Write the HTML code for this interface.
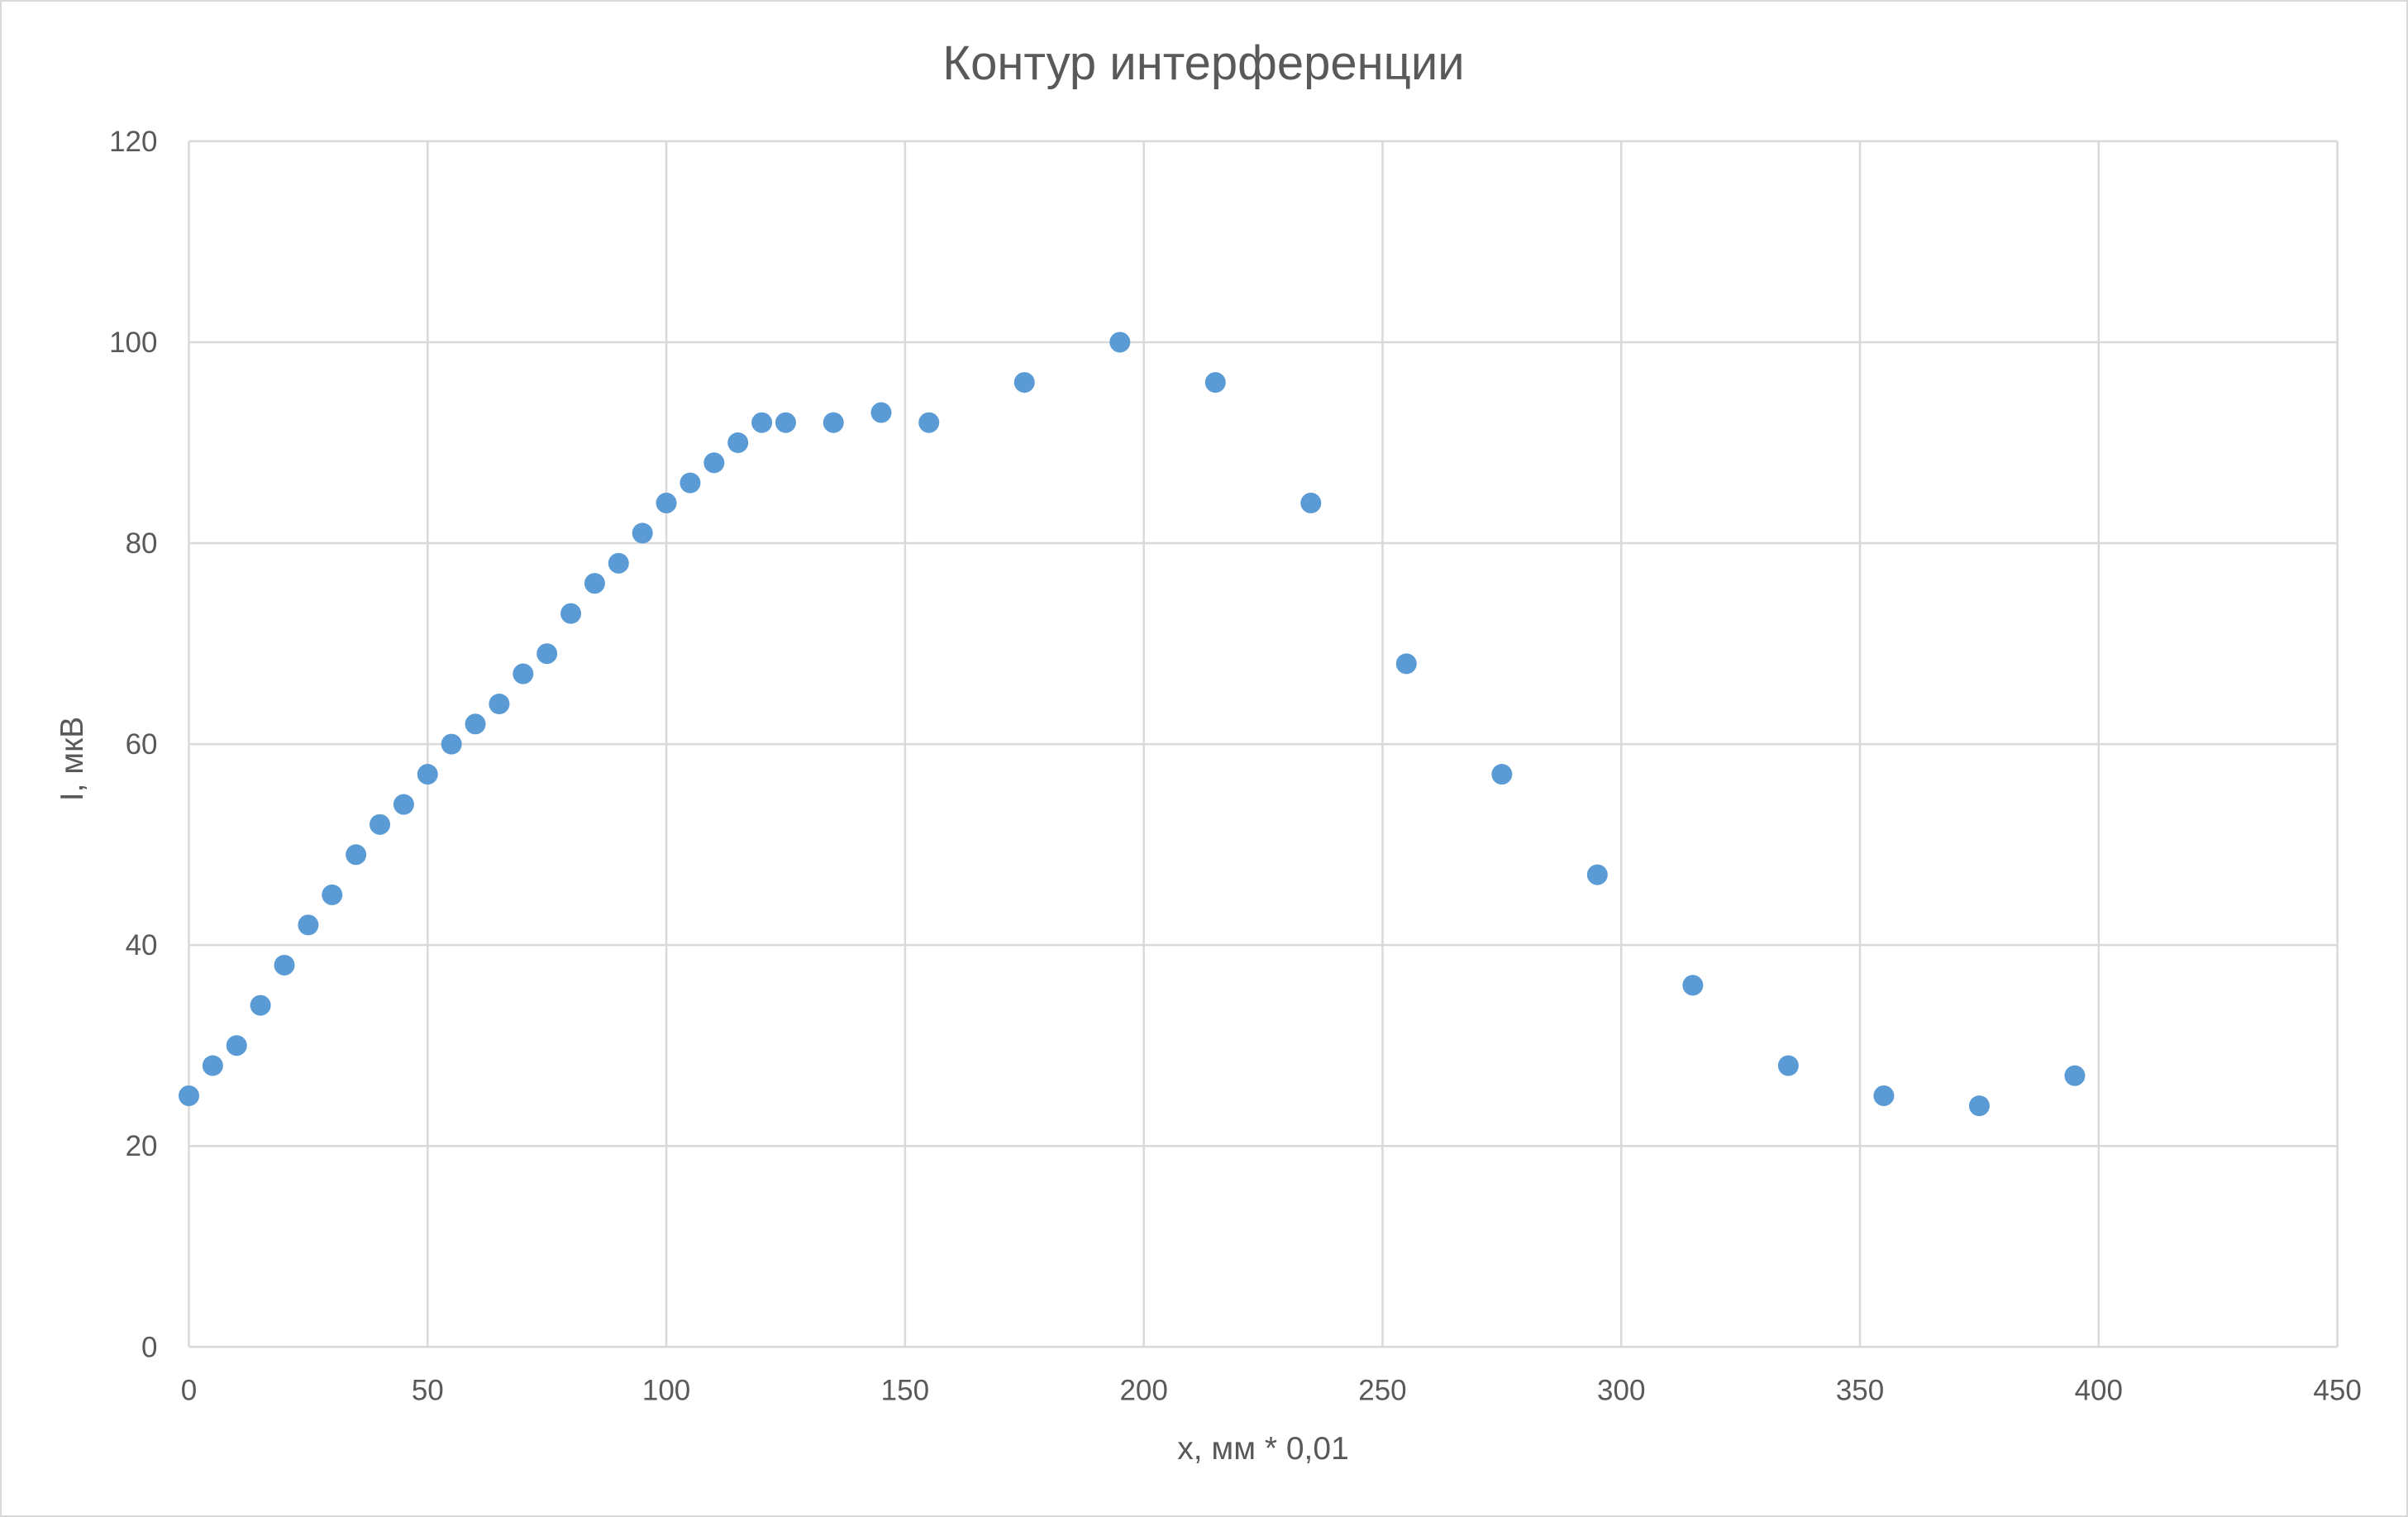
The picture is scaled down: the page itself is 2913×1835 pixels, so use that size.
<!DOCTYPE html>
<html><head><meta charset="utf-8"><style>
html,body{margin:0;padding:0;background:#fff;}
svg{display:block;font-family:"Liberation Sans","DejaVu Sans",sans-serif;}
</style></head><body>
<svg id="chart" width="2913" height="1835" viewBox="0 0 2913 1835" xmlns="http://www.w3.org/2000/svg">
<rect x="1" y="1" width="2911" height="1833" fill="#fff" stroke="#d9d9d9" stroke-width="2"/>
<text x="1456" y="96" font-size="58" fill="#595959" text-anchor="middle">Контур интерференции</text>
<g id="grid"></g><g id="ticks"></g><g id="points"></g>
<text x="1528" y="1765" font-size="39" fill="#595959" text-anchor="middle">x, мм * 0,01</text>
<text transform="translate(100,918) rotate(-90)" font-size="39" fill="#595959" text-anchor="middle">I, мкВ</text>
</svg>
<script>
const xValues=[0,5,10,15,20,25,30,35,40,45,50,55,60,65,70,75,80,85,90,95,100,105,110,115,120,125,135,145,155,175,195,215,235,255,275,295,315,335,355,375,395];
const yValues=[25,28,30,34,38,42,45,49,52,54,57,60,62,64,67,69,73,76,78,81,84,86,88,90,92,92,92,93,92,96,100,96,84,68,57,47,36,28,25,24,27];
const xTicks=[0,50,100,150,200,250,300,350,400,450];
const yTicks=[0,20,40,60,80,100,120];
const L=228.5,R=2827.6,T=170.9,B=1629.3;
const sx=v=>L+(v-0)/(450-0)*(R-L);
const sy=v=>B-(v-0)/(120-0)*(B-T);
const NS="http://www.w3.org/2000/svg";
const grid=document.getElementById('grid'),ticks=document.getElementById('ticks'),pts=document.getElementById('points');
function mk(tag,attrs,parent){const e=document.createElementNS(NS,tag);for(const k in attrs)e.setAttribute(k,attrs[k]);parent.appendChild(e);return e;}
xTicks.forEach(t=>{
 const l=mk('line',{x1:sx(t),x2:sx(t),y1:T,y2:B,stroke:'#d9d9d9','stroke-width':2.5},grid);
 
 
 const tx=mk('text',{x:sx(t),y:B+64,'font-size':35,fill:'#595959','text-anchor':'middle'},ticks);
 tx.textContent=t;
 
 
});
yTicks.forEach(t=>{
 const l=mk('line',{x1:L,x2:R,y1:sy(t),y2:sy(t),stroke:'#d9d9d9','stroke-width':2.5},grid);
 
 
 const tx=mk('text',{x:L-38,y:sy(t)+12,'font-size':35,fill:'#595959','text-anchor':'end'},ticks);
 tx.textContent=t;
 
 
});
xValues.forEach((x,i)=>{
 const c=mk('circle',{cx:sx(x),cy:sy(yValues[i]),r:12.5,fill:'#5b9bd5'},pts);
 
 
});
</script>
</body></html>
